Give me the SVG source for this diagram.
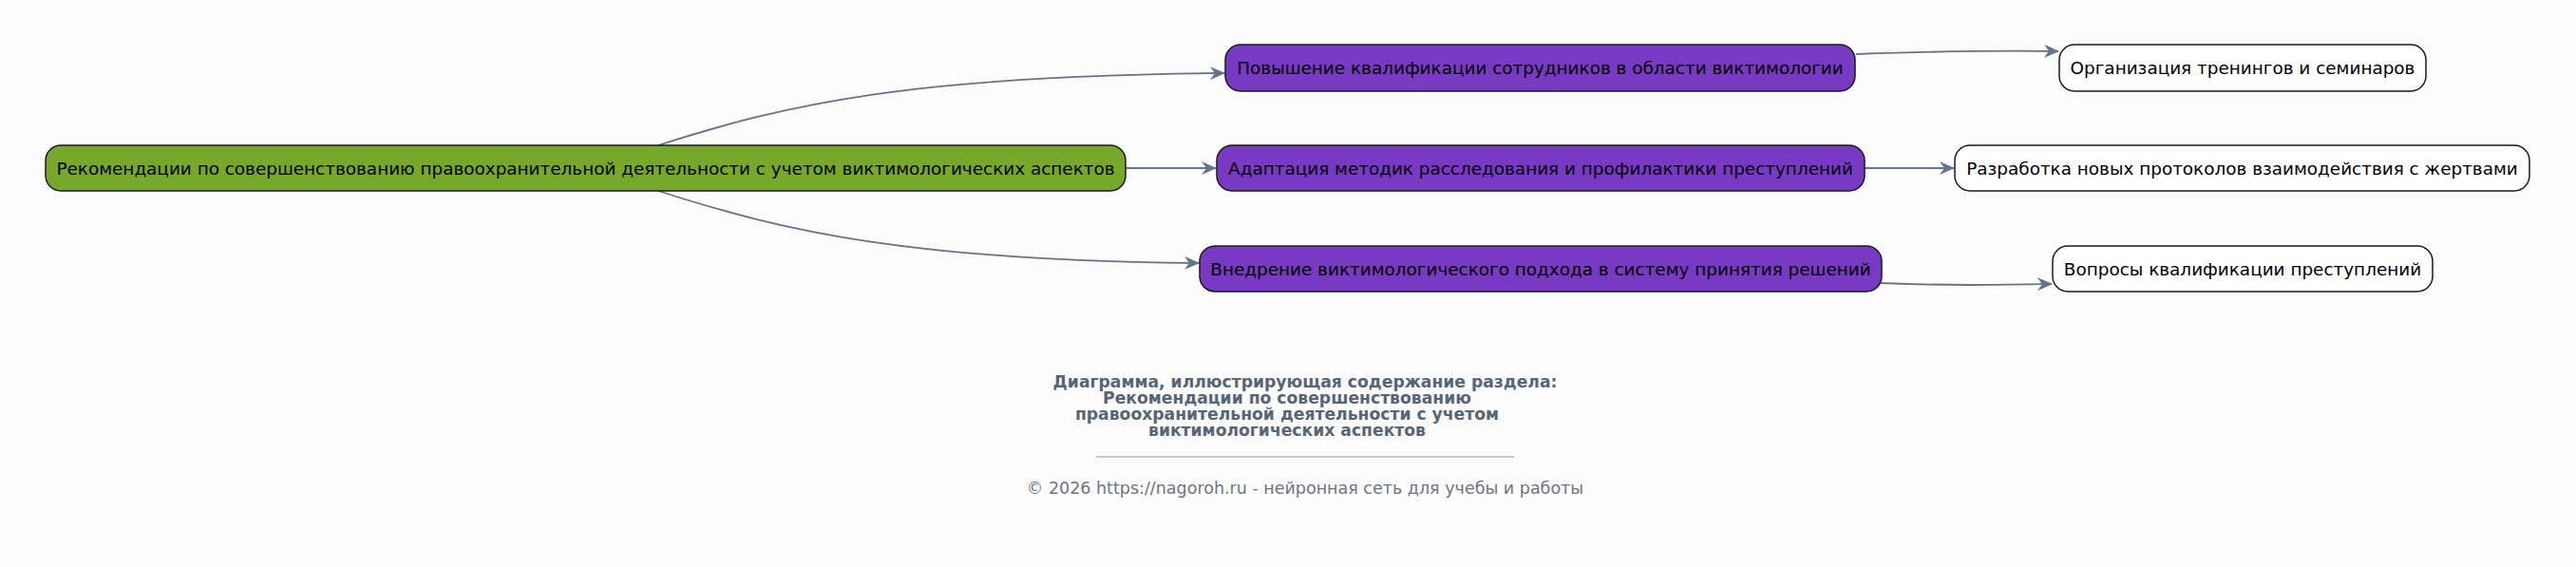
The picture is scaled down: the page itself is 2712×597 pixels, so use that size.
<svg xmlns="http://www.w3.org/2000/svg" width="2712" height="597" viewBox="0 0 2712 597">
<style>
.bg{fill:#fcfcfc}
.node rect{stroke:#1a1a1a;stroke-width:1.5}
.root rect{fill:#77a82b}
.mid rect{fill:#7839c3}
.leaf rect{fill:#ffffff}
.node text{font-family:"DejaVu Sans",sans-serif;font-size:18.4px;fill:#000;text-anchor:middle;dominant-baseline:central}
.edge{fill:none;stroke:#64748b;stroke-width:1.8;marker-end:url(#arr)}
.title{font-family:"DejaVu Sans",sans-serif;font-size:17.2px;font-weight:bold;fill:#556677;text-anchor:middle}
.foot{font-family:"DejaVu Sans",sans-serif;font-size:17.5px;fill:#6b7685;text-anchor:middle}
</style>
<defs>
<marker id="arr" viewBox="0 0 16 14" refX="15" refY="7" markerWidth="16" markerHeight="14" markerUnits="userSpaceOnUse" orient="auto">
<path d="M0,0 L16,7 L0,14 L5,7 Z" fill="#64748b"/>
</marker>
</defs>
<rect class="bg" x="0" y="0" width="2712" height="597"/>
<g id="connectors">
<path class="edge" d="M693,153 C830,109 960,80 1289,77"/>
<path class="edge" d="M1185,177 L1280,177"/>
<path class="edge" d="M693,201 C830,245 960,274 1262,277"/>
<path class="edge" d="M1954,57 C2040,54 2100,53 2167,54"/>
<path class="edge" d="M1963,177 L2057,177"/>
<path class="edge" d="M1980,298 C2060,301 2100,300 2160,299"/>
</g>
<g id="root" class="node root"><rect x="48" y="153" width="1137" height="48" rx="16"/><text x="616.5" y="177">Рекомендации по совершенствованию правоохранительной деятельности с учетом виктимологических аспектов</text></g>
<g id="n1" class="node mid"><rect x="1290" y="47" width="663" height="49" rx="16"/><text x="1621.5" y="71.5">Повышение квалификации сотрудников в области виктимологии</text></g>
<g id="n2" class="node mid"><rect x="1281" y="153" width="682" height="48" rx="16"/><text x="1622" y="177">Адаптация методик расследования и профилактики преступлений</text></g>
<g id="n3" class="node mid"><rect x="1263" y="259" width="718" height="48" rx="16"/><text x="1622" y="283">Внедрение виктимологического подхода в систему принятия решений</text></g>
<g id="l1" class="node leaf"><rect x="2168" y="47" width="386" height="49" rx="16"/><text x="2361" y="71.5">Организация тренингов и семинаров</text></g>
<g id="l2" class="node leaf"><rect x="2058" y="153" width="605" height="48" rx="16"/><text x="2360.5" y="177">Разработка новых протоколов взаимодействия с жертвами</text></g>
<g id="l3" class="node leaf"><rect x="2161" y="259" width="400" height="48" rx="16"/><text x="2361" y="283">Вопросы квалификации преступлений</text></g>
<g id="caption">
<text class="title" x="1374" y="408">Диаграмма, иллюстрирующая содержание раздела:</text>
<text class="title" x="1355" y="425">Рекомендации по совершенствованию</text>
<text class="title" x="1355" y="442">правоохранительной деятельности с учетом</text>
<text class="title" x="1355" y="459">виктимологических аспектов</text>
<line x1="1154" y1="481" x2="1594" y2="481" stroke="#8a96a6" stroke-width="1.2"/>
<text class="foot" x="1374" y="520">© 2026 https://nagoroh.ru - нейронная сеть для учебы и работы</text>
</g>
</svg>
